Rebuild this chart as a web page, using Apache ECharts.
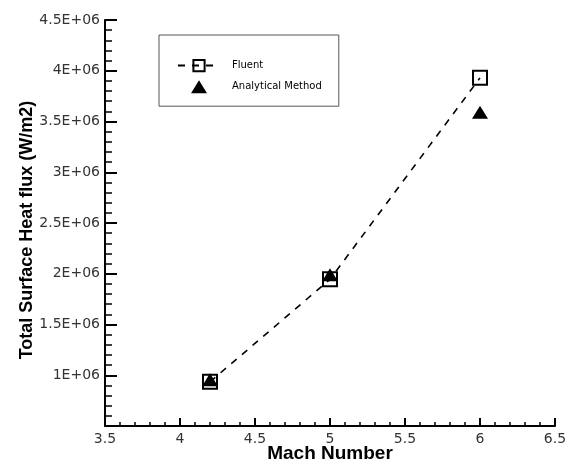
<!DOCTYPE html>
<html>
<head>
<meta charset="utf-8">
<script src="https://cdn.jsdelivr.net/npm/echarts@6/dist/echarts.min.js"></script>
<style>html,body{margin:0;padding:0;background:#fff}#c{width:571px;height:463px}</style>
</head>
<body>
<div id="c"></div>
<script>
const machNumbers = [4.2, 5.0, 6.0];
const fluentFlux = [0.935e6, 1.945e6, 3.93e6];
const analyticalFlux = [0.955e6, 1.99e6, 3.59e6];
const xTickLabels = ['3.5', '4', '4.5', '5', '5.5', '6', '6.5'];
const yTickLabels = ['', '1E+06', '1.5E+06', '2E+06', '2.5E+06', '3E+06', '3.5E+06', '4E+06', '4.5E+06'];
const seriesNames = ['Fluent', 'Analytical Method'];

const chart = echarts.init(document.getElementById('c'), null, {renderer: 'canvas'});
const font = 'Liberation Sans, Arial, sans-serif';
const tickFont = 'DejaVu Sans, sans-serif';
chart.setOption({
  animation: false,
  backgroundColor: '#fff',
  grid: {left: 105, right: 16, top: 20, bottom: 37, outerBoundsMode: 'none', containLabel: false},
  legend: {
    left: 159, top: 35,
    orient: 'vertical',
    padding: [24, 17, 13, 18],
    itemGap: 8,
    itemWidth: 42,
    itemHeight: 14,
    backgroundColor: '#fff',
    borderColor: '#555',
    borderWidth: 1,
    borderRadius: 0,
    textStyle: {fontFamily: tickFont, fontSize: 10, color: '#000', padding: [0, 0, 0, 7]},
    data: [
      {name: seriesNames[0]},
      {name: seriesNames[1], icon: 'path://M0,7L0,7ZM42,7L42,7ZM13,14L21,1L29,14Z'}
    ]
  },
  xAxis: {
    type: 'value', min: 3.5, max: 6.5, interval: 0.5,
    name: 'Mach Number', nameLocation: 'middle', nameGap: 18, nameMoveOverlap: false,
    nameTextStyle: {fontFamily: font, fontSize: 19, fontWeight: 'bold', color: '#000'},
    axisLine: {show: true, onZero: false, lineStyle: {color: '#000', width: 2}},
    axisTick: {show: true, inside: true, length: 8, lineStyle: {color: '#000', width: 2}},
    minorTick: {show: true, splitNumber: 5, length: 4, lineStyle: {color: '#000', width: 1.5}},
    splitLine: {show: false},
    axisLabel: {fontFamily: tickFont, fontSize: 14, color: '#333', margin: 6,
      formatter: function (v) { return xTickLabels[Math.round((v - 3.5) / 0.5)]; }}
  },
  yAxis: {
    type: 'value', min: 500000, max: 4500000, interval: 500000,
    name: 'Total Surface Heat flux (W/m2)', nameLocation: 'middle', nameGap: 69, nameRotate: 90, nameMoveOverlap: false,
    nameTextStyle: {fontFamily: font, fontSize: 18, fontWeight: 'bold', color: '#000', padding: [0, 14, 0, 0]},
    axisLine: {show: true, onZero: false, lineStyle: {color: '#000', width: 2}},
    axisTick: {show: true, inside: true, length: 12, lineStyle: {color: '#000', width: 2}},
    minorTick: {show: true, splitNumber: 5, length: 7, lineStyle: {color: '#000', width: 1.5}},
    splitLine: {show: false},
    axisLabel: {fontFamily: tickFont, fontSize: 14, color: '#333', margin: 5,
      formatter: function (v) { return yTickLabels[Math.round((v - 500000) / 500000)]; }}
  },
  series: [
    {
      name: seriesNames[0], type: 'line',
      data: machNumbers.map((m, i) => [m, fluentFlux[i]]),
      smooth: false,
      symbol: 'rect', symbolSize: 14,
      itemStyle: {color: 'rgba(255,255,255,0)', borderColor: '#000', borderWidth: 2},
      lineStyle: {color: '#000', width: 1.6, type: [7, 7]},
      z: 2
    },
    {
      name: seriesNames[1], type: 'scatter',
      data: machNumbers.map((m, i) => [m, analyticalFlux[i]]),
      symbol: 'triangle', symbolSize: [16, 13],
      itemStyle: {color: '#000', opacity: 1},
      z: 3
    }
  ]
});
</script>
</body>
</html>
